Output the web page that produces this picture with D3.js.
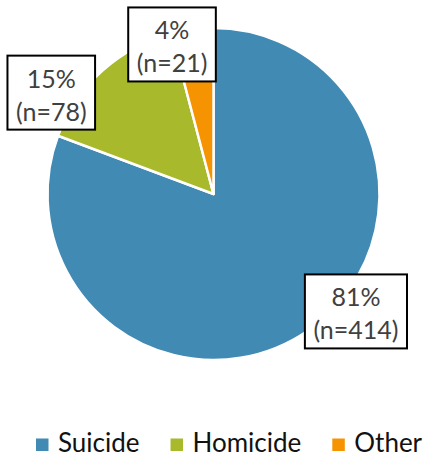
<!DOCTYPE html>
<html>
<head>
<meta charset="utf-8">
<script src="https://cdn.jsdelivr.net/npm/d3@7"></script>
<style>
  body { margin: 0; background: #fff; }
  svg { display: block; font-family: Lato, "Open Sans", sans-serif; }
</style>
</head>
<body>
<svg id="chart" width="427" height="457"></svg>
<script>
var categories = ["Suicide", "Homicide", "Other"];
var counts = [414, 78, 21];
var colors = ["#418AB4", "#A8B92B", "#F59300"];

// where the data labels sit: angle (deg, clockwise from 12 o'clock) and distance from centre
var labelAngle = [129.5, 302, 344.5];
var labelDist = [184.6, 191.3, 155.2];

var width = 427, height = 457;
var cx = 213.5, cy = 194, radius = 166;
var total = d3.sum(counts);
var fmtPct = d3.format(".0%");

var svg = d3.select("#chart");

var color = d3.scaleOrdinal()
    .domain(categories)
    .range(colors);

var pie = d3.pie()
    .sort(null)
    .value(function(d, i) { return counts[i]; });

var arc = d3.arc()
    .innerRadius(0)
    .outerRadius(radius);

var arcs = pie(categories);

var g = svg.append("g")
    .attr("transform", "translate(" + cx + "," + cy + ")");

g.selectAll("path.slice")
    .data(arcs)
  .enter().append("path")
    .attr("class", "slice")
    .attr("d", arc)
    .attr("fill", function(d) { return color(d.data); })
    .attr("stroke", "#fff")
    .attr("stroke-width", 2.5)
    .attr("stroke-linejoin", "round");

// data labels: white boxes with a black border
var labels = g.selectAll("g.label")
    .data(arcs)
  .enter().append("g")
    .attr("class", "label")
    .attr("transform", function(d, i) {
      var a = labelAngle[i] * Math.PI / 180;
      return "translate(" + (Math.sin(a) * labelDist[i]) + "," + (-Math.cos(a) * labelDist[i]) + ")";
    });

labels.append("rect")
    .attr("fill", "#fff")
    .attr("stroke", "#000")
    .attr("stroke-width", 2);

var txt = labels.append("text")
    .attr("text-anchor", "middle")
    .attr("fill", "#404040")
    .style("font-size", "25px");

txt.append("tspan")
    .attr("x", 0)
    .attr("y", -5)
    .text(function(d, i) { return fmtPct(counts[i] / total); });

txt.append("tspan")
    .attr("x", 0)
    .attr("y", 28)
    .text(function(d, i) { return "(n=" + counts[i] + ")"; });

labels.each(function() {
  var sel = d3.select(this);
  var w = sel.select("text").node().getBBox().width + 17;
  sel.select("rect")
      .attr("x", -w / 2)
      .attr("y", -37)
      .attr("width", w)
      .attr("height", 74);
});

// legend
var legend = svg.append("g")
    .attr("class", "legend");

var lx = 36;
categories.forEach(function(c) {
  var item = legend.append("g")
      .attr("transform", "translate(" + lx + ",0)");
  item.append("rect")
      .attr("x", 0)
      .attr("y", 438.5)
      .attr("width", 12.5)
      .attr("height", 12.5)
      .attr("fill", color(c));
  var t = item.append("text")
      .attr("x", 22)
      .attr("y", 452)
      .attr("fill", "#111")
      .style("font-size", "26px")
      .text(c);
  lx += 22 + t.node().getComputedTextLength() + 31;
});
</script>
</body>
</html>
